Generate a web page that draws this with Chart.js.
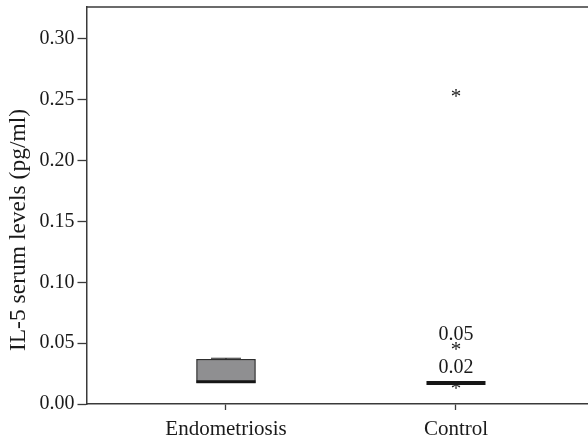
<!DOCTYPE html>
<html>
<head>
<meta charset="utf-8">
<script src="https://cdn.jsdelivr.net/npm/chart.js@4.4.1/dist/chart.umd.min.js"></script>
<style>
  html, body { margin: 0; padding: 0; background: #fff; }
  #wrap { width: 588px; height: 441px; }
</style>
</head>
<body>
<div id="wrap"><canvas id="boxChart" width="588" height="441"></canvas></div>
<script>
// groups and their x positions on the axis
const categories = ["Endometriosis", "Control"];
const categoryPos = [1, 2];

// box plot summary per group
const lowerWhisker = [0.0175, 0.0172];
const q1Values = [0.0172, 0.0172];
const medianValues = [0.0175, 0.0172];
const q3Values = [0.0368, 0.0172];
const upperWhisker = [0.0376, 0.0172];

// outliers (Control only) and their printed labels
const outlierGroup = [2, 2, 2];
const outlierValues = [0.0175, 0.0445, 0.253];
const outlierLabels = ["0.02", "0.05", ""];

// y axis ticks
const yTickValues = [0, 0.05, 0.1, 0.15, 0.2, 0.25, 0.3];
const yTickLabels = ["0.00", "0.05", "0.10", "0.15", "0.20", "0.25", "0.30"];
const yTitle = "IL-5 serum levels (pg/ml)";

const serif = "'Liberation Serif', 'Times New Roman', serif";
const axisColor = "#3a3a3a";
const textColor = "#1a1a1a";

// whiskers, medians, outlier stars, the top frame line and the y title
const boxExtras = {
  id: "boxExtras",
  afterDatasetsDraw(chart) {
    const ctx = chart.ctx;
    const x = chart.scales.x;
    const y = chart.scales.y;
    const area = chart.chartArea;
    ctx.save();

    // top frame line
    ctx.strokeStyle = axisColor;
    ctx.lineWidth = 1.5;
    ctx.beginPath();
    ctx.moveTo(area.left, area.top);
    ctx.lineTo(area.right, area.top);
    ctx.stroke();

    categoryPos.forEach((pos, i) => {
      const cx = x.getPixelForValue(pos);
      const half = 29.5;
      const cap = 15;
      ctx.strokeStyle = "#2a2a2a";
      ctx.lineWidth = 1.2;
      // upper whisker
      ctx.beginPath();
      ctx.moveTo(cx, y.getPixelForValue(q3Values[i]));
      ctx.lineTo(cx, y.getPixelForValue(upperWhisker[i]));
      ctx.moveTo(cx - cap, y.getPixelForValue(upperWhisker[i]));
      ctx.lineTo(cx + cap, y.getPixelForValue(upperWhisker[i]));
      ctx.stroke();
      // lower whisker
      ctx.beginPath();
      ctx.moveTo(cx, y.getPixelForValue(q1Values[i]));
      ctx.lineTo(cx, y.getPixelForValue(lowerWhisker[i]));
      ctx.stroke();
      // median
      ctx.strokeStyle = "#161616";
      ctx.lineWidth = i === 1 ? 4 : 2.8;
      const my = y.getPixelForValue(medianValues[i]) - (i === 0 ? 1 : 0);
      ctx.beginPath();
      ctx.moveTo(cx - half, my);
      ctx.lineTo(cx + half, my);
      ctx.stroke();
    });

    // outliers drawn as asterisks with value labels above
    const meta = chart.getDatasetMeta(1);
    ctx.fillStyle = textColor;
    ctx.textAlign = "center";
    meta.data.forEach((pt, i) => {
      ctx.font = "21px " + serif;
      const m = ctx.measureText("*");
      const inkMid = (m.actualBoundingBoxAscent - m.actualBoundingBoxDescent) / 2;
      ctx.textBaseline = "alphabetic";
      ctx.fillText("*", pt.x, pt.y + inkMid + 2);
      if (outlierLabels[i]) {
        ctx.font = "20px " + serif;
        ctx.textBaseline = "middle";
        ctx.fillText(outlierLabels[i], pt.x, pt.y - 15);
      }
    });

    // rotated y axis title
    ctx.translate(19, 230);
    ctx.rotate(-Math.PI / 2);
    ctx.font = "23.5px " + serif;
    ctx.textBaseline = "middle";
    ctx.fillText(yTitle, 0, 0);
    ctx.restore();
  }
};

const ctx = document.getElementById("boxChart").getContext("2d");

new Chart(ctx, {
  type: "bar",
  data: {
    datasets: [
      {
        label: "box",
        data: categoryPos.map((pos, i) => ({ x: pos, y: [q1Values[i], q3Values[i]] })),
        backgroundColor: "#8f8f91",
        borderColor: "#2e2e2e",
        borderWidth: 1.3,
        borderSkipped: false,
        barThickness: 59,
      },
      {
        type: "scatter",
        label: "outliers",
        data: outlierValues.map((v, i) => ({ x: outlierGroup[i], y: v })),
        pointRadius: 0,
        pointHoverRadius: 0,
      },
    ],
  },
  options: {
    responsive: false,
    animation: false,
    layout: { padding: { top: 7, right: 0, left: 0, bottom: 0 } },
    plugins: {
      legend: { display: false },
      tooltip: { enabled: false },
    },
    scales: {
      x: {
        type: "linear",
        offset: false,
        min: 0.3935,
        max: 2.574,
        afterBuildTicks: (scale) => {
          scale.ticks = categoryPos.map((v) => ({ value: v }));
        },
        afterFit: (scale) => {
          scale.height = 37;
          scale.paddingLeft = 0;
          scale.paddingRight = 0;
        },
        ticks: {
          autoSkip: false,
          maxRotation: 0,
          padding: 7,
          color: textColor,
          font: { family: serif, size: 21 },
          callback: (value) => categories[categoryPos.indexOf(value)] || "",
        },
        grid: {
          offset: false,
          drawOnChartArea: false,
          drawTicks: true,
          tickLength: 6,
          tickColor: axisColor,
          tickWidth: 1.3,
        },
        border: { display: true, color: axisColor, width: 1.5 },
      },
      y: {
        type: "linear",
        min: 0,
        max: 0.3263,
        afterBuildTicks: (scale) => {
          scale.ticks = yTickValues.map((v) => ({ value: v }));
        },
        afterFit: (scale) => {
          scale.width = 86.5;
          scale.paddingTop = 0;
          scale.paddingBottom = 0;
        },
        ticks: {
          padding: 3,
          color: textColor,
          font: { family: serif, size: 20 },
          callback: (value) => yTickLabels[yTickValues.indexOf(value)],
        },
        grid: {
          drawOnChartArea: false,
          drawTicks: true,
          tickLength: 9,
          tickColor: axisColor,
          tickWidth: 1.3,
        },
        border: { display: true, color: axisColor, width: 1.5 },
      },
    },
  },
  plugins: [boxExtras],
});
</script>
</body>
</html>
